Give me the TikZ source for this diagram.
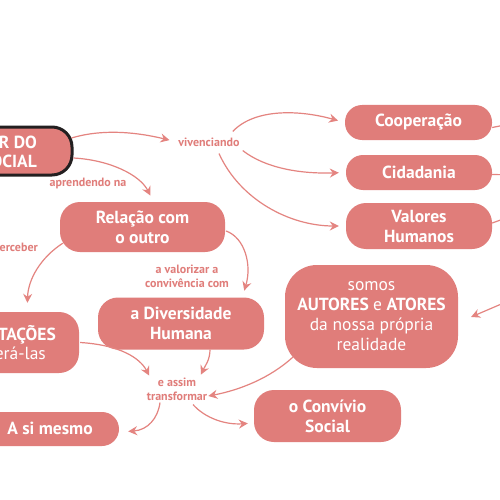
\documentclass[tikz,border=0pt]{standalone}
\usepackage{fontspec}
\setmainfont{PT Sans}
\usetikzlibrary{arrows.meta,calc}
\definecolor{salmon}{RGB}{224,125,122}
\definecolor{linec}{RGB}{228,132,128}
\definecolor{dark}{RGB}{35,31,32}
\begin{document}
\begin{tikzpicture}[x=1pt,y=-1pt,
  box/.style={fill=salmon, text=white, font=\bfseries\fontsize{17.5}{20}\selectfont, align=center, inner sep=0pt, rounded corners=20pt},
  txt/.style={text=white, font=\bfseries\fontsize{17.5}{19}\selectfont, inner sep=0pt},
  lab/.style={text=salmon, font=\bfseries\fontsize{12}{14}\selectfont, align=center, inner sep=1pt},
  lin/.style={draw=linec, line width=1.2pt},
  arr/.style={lin, -{Stealth[length=9pt,width=9pt,inset=3pt]}}]
\clip (0,0) rectangle (500,500);
\fill[white] (0,0) rectangle (500,500);
% boxes
\node[box, draw=dark, line width=3pt, minimum width=152pt, minimum height=48pt] (topn) at (-4,151) {};
\node[txt, align=right, anchor=east] (topt) at (37,151.5) {R DO\\OCIAL};
\node[box, rounded corners=17pt, minimum width=147pt, minimum height=35pt] (coop) at (418.5,122.5) {Cooperação};
\node[box, rounded corners=17pt, minimum width=146pt, minimum height=35pt] (cid) at (419,172.5) {Cidadania};
\node[box, minimum width=146pt, minimum height=46pt] (val) at (419,226) {Valores\\Humanos};
\node[box, minimum width=165pt, minimum height=50pt] (rel) at (142.5,227) {Relação com\\o outro};
\node[box, minimum width=166pt, minimum height=52pt] (div) at (181,323.5) {a Diversidade\\Humana};
\node[box, minimum width=179pt, minimum height=61pt] (tac) at (-10.5,342.5) {};
\node[txt, align=right, anchor=east] (tact) at (56,342.5) {TAÇÕES\\\mdseries erá-las\kern10pt};
\node[box, rounded corners=17pt, minimum width=219pt, minimum height=34pt] (asi) at (9.5,429) {};
\node[txt] (asit) at (50,428.5) {A si mesmo};
\node[box, rounded corners=32pt, minimum width=173pt, minimum height=103pt] (aut) at (371.5,316.5)
  {{\mdseries somos}\\AUTORES {\mdseries e} ATORES\\{\mdseries da nossa própria}\\{\mdseries realidade}};
\node[box, minimum width=147pt, minimum height=52pt] (conv) at (327.5,416) {o Convívio\\Social};
% labels
\node[lab] (viv) at (209,142) {vivenciando};
\node[lab] (apr) at (88,183) {aprendendo na};
\node[lab, anchor=east] (perc) at (39,247) {erceber};
\node[lab] (valo) at (187,276) {a valorizar a\\convivência com};
\node[lab] (transf) at (177,389) {e assim\\transformar};
% off-picture ends
\coordinate (r1) at (520,122);
\coordinate (r2) at (520,175);
\coordinate (r3) at (520,213);
\coordinate (r4) at (520,296);
% connectors
\draw[arr, shorten >=8pt] ($(topn.east)+(-2,-13)$) .. controls (105,128) and (140,133) .. (viv.west);
\draw[arr, shorten >=7pt] ($(topn.east)+(0,7)$) .. controls (110,160) and (140,175) .. ($(rel.north)+(11,0)$);
\draw[arr, shorten >=7pt] ($(viv.north east)+(-8,-5)$) .. controls (255,108) and (300,110) .. (coop.west);
\draw[arr, shorten >=7pt] ($(viv.south east)+(2,3)$) .. controls (265,168) and (300,174) .. (cid.west);
\draw[arr, shorten >=7pt] ($(viv.south)+(10,6)$) .. controls (240,200) and (290,226) .. (val.west);
\draw[lin] ($(coop.east)+(0,5)$) -- (r1);
\draw[lin] ($(cid.east)+(0,2)$) -- (r2);
\draw[lin] ($(val.east)+(0,-3)$) -- (r3);
\draw[arr, shorten >=14pt] (r4) -- ($(aut.east)+(0,6)$);
\draw[arr, shorten >=9pt] ($(rel.south west)+(3,-9)$) .. controls (40,258) and (28,280) .. ($(tac.north east)+(-52,0)$);
\draw[arr, shorten >=7pt] ($(rel.east)+(1,4)$) .. controls (245,238) and (252,265) .. ($(div.north east)+(-22,0)$);
\draw[arr, shorten >=2pt] ($(div.south)+(29,0)$) .. controls (210,360) and (205,366) .. ($(transf.north)+(23,0)$);
\draw[arr, shorten >=1pt] ($(tac.east)+(1,0)$) .. controls (120,345) and (140,358) .. ($(transf.north west)+(4,0)$);
\draw[arr] ($(aut.south west)+(8,-11)$) .. controls (270,378) and (240,390) .. ($(transf.east)+(0,7)$);
\draw[arr, shorten >=9pt] ($(transf.south)+(-17,1)$) .. controls (158,418) and (148,430) .. ($(asi.east)+(0,3)$);
\draw[arr, shorten >=6pt] ($(transf.south)+(16,3)$) .. controls (205,418) and (225,425) .. ($(conv.west)+(0,7)$);
\end{tikzpicture}
\end{document}
